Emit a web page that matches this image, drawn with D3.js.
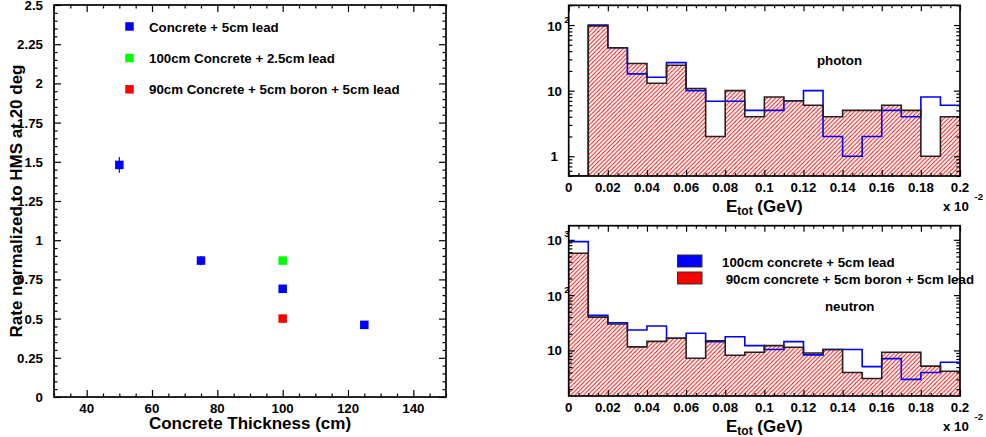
<!DOCTYPE html>
<html>
<head>
<meta charset="utf-8">
<script src="https://cdn.jsdelivr.net/npm/d3@7"></script>
<style>
  body { margin: 0; background: #fff; }
  svg { display: block; }
  text { font-family: "Liberation Sans", Arial, Helvetica, sans-serif; font-weight: bold; fill: #000; white-space: pre; }
</style>
</head>
<body>
<svg id="chart" width="986" height="437"></svg>
<script>
// ---- Rate vs concrete thickness ----
const thickness = [50, 75, 100, 125];
const rateConcreteLead5 = [1.48, 0.87, 0.69, 0.46];
const rateConcreteLead5Err = [0.05, 0.03, 0.02, 0.02];
const thicknessLead25 = [100];
const rateLead25 = [0.87];
const thicknessBoron = [100];
const rateBoron = [0.50];
const rateLegend = ["Concrete + 5cm lead", "100cm Concrete + 2.5cm lead", "90cm Concrete + 5cm boron + 5cm lead"];
const thicknessTicks = [40, 60, 80, 100, 120, 140];
const rateTicks = [0, 0.25, 0.5, 0.75, 1, 1.25, 1.5, 1.75, 2, 2.25, 2.5];

// ---- Energy deposit histograms (bin edges in GeV, x 10^-2) ----
const energyEdges = [0, 0.01, 0.02, 0.03, 0.04, 0.05, 0.06, 0.07, 0.08, 0.09, 0.10,
                     0.11, 0.12, 0.13, 0.14, 0.15, 0.16, 0.17, 0.18, 0.19, 0.20];
const energyTicks = [0, 0.02, 0.04, 0.06, 0.08, 0.1, 0.12, 0.14, 0.16, 0.18, 0.2];
const photonLead  = [0, 100, 45, 18, 16, 26.7, 10, 6.9, 6.9, 5, 5, 7, 10, 2, 1, 2, 5, 4, 8, 6];
const photonBoron = [0, 97, 45, 26, 13, 24.4, 10.8, 2, 10, 4, 8, 7, 6, 4, 5, 5, 6, 5, 1, 4];
const neutronLead  = [927, 43, 31.7, 23.4, 27.6, 16.6, 20.4, 14.4, 17.7, 12.2, 10.4, 14.4, 8.3, 10.4, 10.4, 5.1, 7.1, 3.0, 4.0, 6.1];
const neutronBoron = [571, 40, 30, 11.6, 14.6, 16.6, 7.2, 15, 8.2, 9.3, 12.2, 11.4, 9, 10.4, 4, 3.1, 9.3, 9.3, 5.2, 4.2];
const photonLogTicks = [1, 10, 100];
const neutronLogTicks = [10, 100, 1000];
const histLegend = ["100cm concrete + 5cm lead", " 90cm concrete + 5cm boron + 5cm lead"];

const BLUE = "#0000ff", GREEN = "#00ff00", RED = "#ff0000";
const LABEL = 13.3, TITLE = 17;

const svg = d3.select("#chart");
const fmt = v => String(+v.toFixed(3));

// Inward tick marks on any side of a frame
function ticks(axisFn, scale, values, size, transform) {
  const g = svg.append("g").attr("transform", transform)
    .call(axisFn(scale).tickValues(values).tickSizeInner(-size).tickSizeOuter(0).tickFormat(""));
  g.select(".domain").remove();
  g.selectAll("text").remove();
  g.selectAll(".tick line").attr("stroke", "#000").attr("stroke-width", 1.2);
  return g;
}
function frame(f) {
  svg.append("rect").attr("x", f.x0).attr("y", f.y0)
    .attr("width", f.x1 - f.x0).attr("height", f.y1 - f.y0)
    .attr("fill", "none").attr("stroke", "#000").attr("stroke-width", 1.7);
}

// ================= Left panel =================
const L = { x0: 54, x1: 446, y0: 5, y1: 397 };
const xT = d3.scaleLinear().domain([30, 150]).range([L.x0, L.x1]);
const yR = d3.scaleLinear().domain([0, 2.5]).range([L.y1, L.y0]);
const xMinor = d3.range(30, 151, 5).filter(v => !thicknessTicks.includes(v));
const yMinor = d3.range(0, 2.501, 0.05).map(v => +v.toFixed(2)).filter(v => !rateTicks.includes(v));

frame(L);
ticks(d3.axisBottom, xT, thicknessTicks, 7, `translate(0,${L.y1})`);
ticks(d3.axisBottom, xT, xMinor, 3.5, `translate(0,${L.y1})`);
ticks(d3.axisTop, xT, thicknessTicks, 7, `translate(0,${L.y0})`);
ticks(d3.axisTop, xT, xMinor, 3.5, `translate(0,${L.y0})`);
ticks(d3.axisLeft, yR, rateTicks, 7, `translate(${L.x0},0)`);
ticks(d3.axisLeft, yR, yMinor, 3.5, `translate(${L.x0},0)`);
ticks(d3.axisRight, yR, rateTicks, 7, `translate(${L.x1},0)`);
ticks(d3.axisRight, yR, yMinor, 3.5, `translate(${L.x1},0)`);

svg.append("g").selectAll("text").data(thicknessTicks).join("text")
  .attr("x", d => xT(d)).attr("y", 412.5).attr("text-anchor", "middle")
  .attr("font-size", LABEL).text(fmt);
svg.append("g").selectAll("text").data(rateTicks).join("text")
  .attr("x", 43).attr("y", d => yR(d) + 5).attr("text-anchor", "end")
  .attr("font-size", LABEL).text(fmt);

svg.append("text").attr("x", (L.x0 + L.x1) / 2).attr("y", 429)
  .attr("text-anchor", "middle").attr("font-size", TITLE).text("Concrete Thickness (cm)");
svg.append("text").attr("transform", `translate(21.5,${(L.y0 + L.y1) / 2}) rotate(-90)`)
  .attr("text-anchor", "middle").attr("font-size", TITLE).text("Rate normalized to HMS at 20 deg");

// error bars + markers
const M = 8.5;
const leadPts = thickness.map((t, i) => ({ x: t, y: rateConcreteLead5[i], e: rateConcreteLead5Err[i] }));
svg.append("g").selectAll("line").data(leadPts).join("line")
  .attr("x1", d => xT(d.x)).attr("x2", d => xT(d.x))
  .attr("y1", d => yR(d.y - d.e)).attr("y2", d => yR(d.y + d.e))
  .attr("stroke", BLUE).attr("stroke-width", 1.2);
function markers(xs, ys, color) {
  svg.append("g").selectAll("rect").data(xs.map((x, i) => [x, ys[i]])).join("rect")
    .attr("x", d => xT(d[0]) - M / 2).attr("y", d => yR(d[1]) - M / 2)
    .attr("width", M).attr("height", M).attr("fill", color);
}
markers(thickness, rateConcreteLead5, BLUE);
markers(thicknessLead25, rateLead25, GREEN);
markers(thicknessBoron, rateBoron, RED);

// legend
const legColors = [BLUE, GREEN, RED];
const legY = [26.5, 58, 89.3];
rateLegend.forEach((t, i) => {
  svg.append("rect").attr("x", 129.5 - M / 2).attr("y", legY[i] - M / 2)
    .attr("width", M).attr("height", M).attr("fill", legColors[i]);
  svg.append("text").attr("x", 149).attr("y", legY[i] + 5).attr("font-size", LABEL).text(t);
});

// ================= Histograms =================
const defs = svg.append("defs");
// red "/" hatching, about 4.2 px apart horizontally
const HS = 4.2;
const pat = defs.append("pattern").attr("id", "hatch").attr("patternUnits", "userSpaceOnUse")
  .attr("width", HS).attr("height", HS);
pat.append("path")
  .attr("d", `M0,${HS} L${HS},0 M${-HS / 2},${HS / 2} L${HS / 2},${-HS / 2} M${HS / 2},${HS * 1.5} L${HS * 1.5},${HS / 2}`)
  .attr("stroke", RED).attr("stroke-width", 1).attr("fill", "none");

function logLabel(g, v, x, y) {
  const e = Math.round(Math.log10(v));
  const t = g.append("text").attr("font-size", LABEL);
  if (e === 0) { t.attr("x", x - 4).attr("y", y + 4.5).attr("text-anchor", "end").text("1"); return; }
  if (e === 1) { t.attr("x", x).attr("y", y + 5).attr("text-anchor", "end").text("10"); return; }
  t.attr("x", x).attr("y", y + 5.5).attr("text-anchor", "end").text("10");
  g.append("text").attr("x", x + 2.3).attr("y", y - 2.5).attr("font-size", 9.5).text(String(e));
}

function histPanel(id, f, domain, lead, boron, logTicks, name, namePos) {
  const x = d3.scaleLinear().domain([0, 0.2]).range([f.x0, f.x1]);
  const y = d3.scaleLog().domain(domain).range([f.y1, f.y0]).clamp(true);
  const floor = domain[0];
  const pts = vals => energyEdges.map((e, i) => [e, Math.max(vals[Math.min(i, vals.length - 1)], floor)]);

  defs.append("clipPath").attr("id", "clip" + id).append("rect")
    .attr("x", f.x0).attr("y", f.y0).attr("width", f.x1 - f.x0).attr("height", f.y1 - f.y0);
  const g = svg.append("g").attr("clip-path", `url(#clip${id})`);

  const area = d3.area().x(d => x(d[0])).y0(f.y1).y1(d => y(d[1])).curve(d3.curveStepAfter);
  const line = d3.line().x(d => x(d[0])).y(d => y(d[1])).curve(d3.curveStepAfter);
  g.append("path").attr("d", area(pts(boron))).attr("fill", "url(#hatch)");
  g.append("path").attr("d", line(pts(lead))).attr("fill", "none").attr("stroke", BLUE).attr("stroke-width", 1.6);
  g.append("path").attr("d", line(pts(boron))).attr("fill", "none").attr("stroke", "#222").attr("stroke-width", 1.6);

  frame(f);
  const xMin = d3.range(0, 0.2001, 0.005).map(v => +v.toFixed(3)).filter(v => !energyTicks.includes(v));
  ticks(d3.axisBottom, x, energyTicks, 6, `translate(0,${f.y1})`);
  ticks(d3.axisBottom, x, xMin, 3, `translate(0,${f.y1})`);
  ticks(d3.axisTop, x, energyTicks, 6, `translate(0,${f.y0})`);
  ticks(d3.axisTop, x, xMin, 3, `translate(0,${f.y0})`);

  const lo = Math.floor(Math.log10(domain[0])), hi = Math.ceil(Math.log10(domain[1]));
  const allLog = [];
  for (let n = lo; n <= hi; n++) for (let k = 1; k <= 9; k++) {
    const v = +(k * Math.pow(10, n)).toPrecision(3);
    if (v >= domain[0] && v <= domain[1]) allLog.push(v);
  }
  const yMaj = allLog.filter(v => logTicks.includes(v));
  const yMin = allLog.filter(v => !logTicks.includes(v) && !Number.isInteger(Math.log10(v)));
  ticks(d3.axisLeft, y, yMaj, 6, `translate(${f.x0},0)`);
  ticks(d3.axisLeft, y, yMin, 3.7, `translate(${f.x0},0)`);
  ticks(d3.axisRight, y, yMaj, 6, `translate(${f.x1},0)`);
  ticks(d3.axisRight, y, yMin, 3.7, `translate(${f.x1},0)`);

  const lg = svg.append("g");
  logTicks.forEach(v => logLabel(lg, v, 562, y(v)));

  svg.append("g").selectAll("text").data(energyTicks).join("text")
    .attr("x", d => x(d)).attr("y", f.y1 + 15.7).attr("text-anchor", "middle")
    .attr("font-size", LABEL).text(fmt);

  const tt = svg.append("text").attr("x", (f.x0 + f.x1) / 2).attr("y", f.y1 + 36)
    .attr("text-anchor", "middle").attr("font-size", TITLE);
  tt.append("tspan").text("E");
  tt.append("tspan").attr("font-size", 12).attr("dy", 3).text("tot");
  tt.append("tspan").attr("dy", -3).text(" (GeV)");

  svg.append("text").attr("x", 943).attr("y", f.y1 + 35).attr("font-size", LABEL).text("x 10");
  svg.append("text").attr("x", 974.5).attr("y", f.y1 + 23.5).attr("font-size", 9.5).text("-2");

  svg.append("text").attr("x", namePos[0]).attr("y", namePos[1]).attr("font-size", LABEL).text(name);
  return { x, y };
}

histPanel("P", { x0: 568.7, x1: 960, y0: 5.3, y1: 176 }, [0.5, 200],
  photonLead, photonBoron, photonLogTicks, "photon", [817, 64.5]);
histPanel("N", { x0: 568.7, x1: 960, y0: 225.7, y1: 396 }, [1.5, 1800],
  neutronLead, neutronBoron, neutronLogTicks, "neutron", [825, 310.5]);

// histogram legend
const hlColors = [BLUE, RED];
const hlY = [255, 272];
histLegend.forEach((t, i) => {
  svg.append("rect").attr("x", 677.5).attr("y", hlY[i]).attr("width", 24.5).attr("height", 12)
    .attr("fill", hlColors[i]).attr("stroke", "#333").attr("stroke-width", 1);
  svg.append("text").attr("x", 722).attr("y", hlY[i] + 11.5).attr("font-size", LABEL).text(t);
});
</script>
</body>
</html>
